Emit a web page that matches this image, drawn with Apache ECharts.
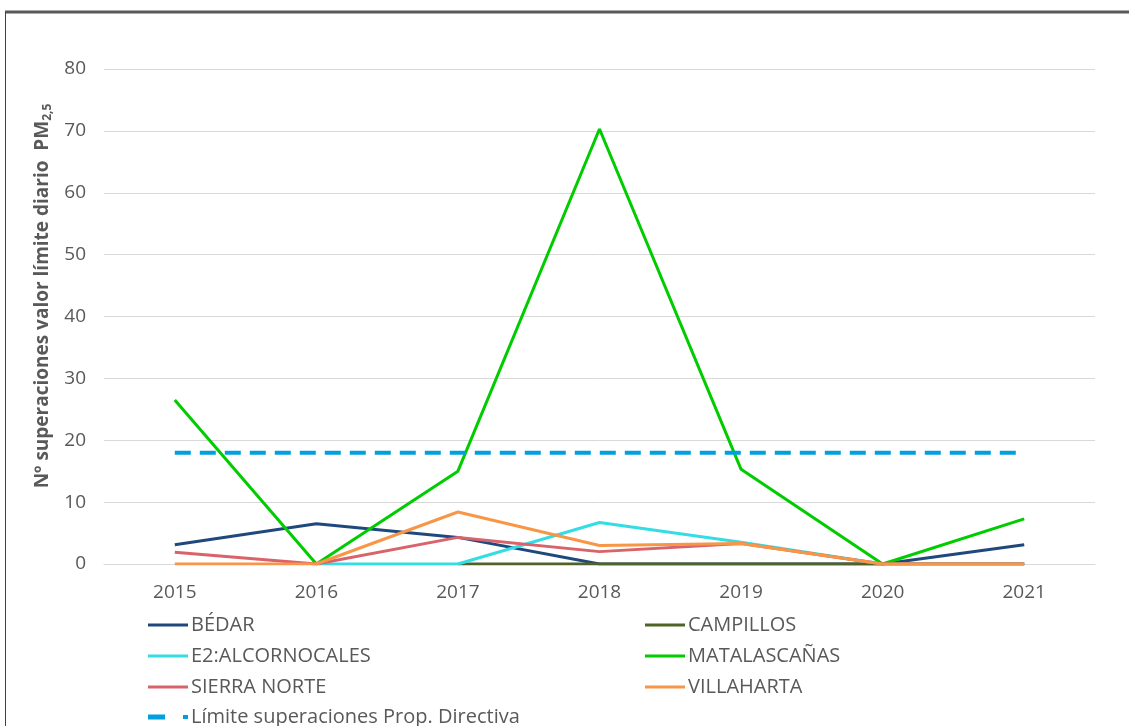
<!DOCTYPE html>
<html>
<head>
<meta charset="utf-8">
<script src="https://cdn.jsdelivr.net/npm/echarts@6/dist/echarts.min.js"></script>
<style>
  html, body { margin: 0; padding: 0; background: #fff; }
  #chart { width: 1129px; height: 726px; }
</style>
</head>
<body>
<div id="chart"></div>
<script>
// años y valores
const years = ['2015', '2016', '2017', '2018', '2019', '2020', '2021'];
const bedar = [3.1, 6.5, 4.3, 0, 0, 0, 3.1];
const campillos = [null, null, 0, 0, 0, 0, 0];
const alcornocales = [null, 0, 0, 6.7, 3.5, 0, 0];
const matalascanas = [26.5, 0, 15, 70.3, 15.3, 0, 7.3];
const sierraNorte = [1.9, 0, 4.3, 2, 3.3, 0, 0];
const villaharta = [0, 0, 8.4, 3, 3.3, 0, 0];
const limite = [18, 18, 18, 18, 18, 18, 18];
const yTicks = [0, 10, 20, 30, 40, 50, 60, 70, 80];

const chart = echarts.init(document.getElementById('chart'));
const font = "'Open Sans', sans-serif";
const grey = '#595959';

function line(name, data, color) {
    return {
        name: name,
        type: 'line',
        data: data,
        symbol: 'none',
        connectNulls: false,
        lineStyle: { width: 3, color: color },
        itemStyle: { color: color }
    };
}

const legendBase = {
    orient: 'vertical',
    top: 610,
    itemWidth: 40,
    itemHeight: 14,
    itemGap: 11,
    icon: 'path://M0,6H40V9H0Z',
    textStyle: { color: grey, fontFamily: font, fontSize: 20, lineHeight: 20, padding: [0, 0, 0, -2] }
};

chart.setOption({
    animation: false,
    textStyle: { fontFamily: font },
    grid: { left: 104, right: 34, top: 69, bottom: 162 },
    legend: [
        Object.assign({}, legendBase, {
            left: 143,
            data: ['BÉDAR', 'E2:ALCORNOCALES', 'SIERRA NORTE']
        }),
        Object.assign({}, legendBase, {
            left: 640,
            data: ['CAMPILLOS', 'MATALASCAÑAS', 'VILLAHARTA']
        }),
        Object.assign({}, legendBase, {
            left: 143,
            top: 702,
            data: [{ name: 'Límite superaciones Prop. Directiva', icon: 'path://M0,0H17V5H0ZM35,0.5H40V4.5H35Z' }]
        })
    ],
    xAxis: {
        type: 'category',
        data: years,
        boundaryGap: true,
        axisLine: { show: true, lineStyle: { color: '#d9d9d9', width: 1 } },
        axisTick: { show: false },
        axisLabel: { color: grey, fontSize: 19, margin: 19, fontFamily: font }
    },
    yAxis: {
        type: 'value',
        min: yTicks[0],
        max: yTicks[yTicks.length - 1],
        interval: 10,
        axisLine: { show: false },
        axisTick: { show: false },
        splitLine: { lineStyle: { color: '#d9d9d9', width: 1 } },
        axisLabel: { color: grey, fontSize: 19, margin: 18, fontFamily: font }
    },
    graphic: [
        {
            type: 'line',
            shape: { x1: 5, y1: 12, x2: 1129, y2: 12 },
            style: { stroke: grey, lineWidth: 3 }
        },
        {
            type: 'line',
            shape: { x1: 5.5, y1: 12, x2: 5.5, y2: 726 },
            style: { stroke: '#404040', lineWidth: 1 }
        },
        {
            type: 'text',
            x: 43,
            y: 296,
            rotation: Math.PI / 2,
            style: {
                text: '{b|Nº superaciones valor límite diario  PM}{s|2,5}',
                align: 'center',
                verticalAlign: 'middle',
                rich: {
                    b: { fontFamily: font, fontSize: 19, fontWeight: 'bold', fill: grey },
                    s: { fontFamily: font, fontSize: 12, fontWeight: 'bold', fill: grey, verticalAlign: 'bottom', padding: [9, 0, 0, 0] }
                }
            }
        }
    ],
    series: [
        line('BÉDAR', bedar, '#1f497d'),
        line('CAMPILLOS', campillos, '#4f6228'),
        line('E2:ALCORNOCALES', alcornocales, '#33dde3'),
        line('MATALASCAÑAS', matalascanas, '#00cc00'),
        line('SIERRA NORTE', sierraNorte, '#d9636b'),
        line('VILLAHARTA', villaharta, '#f79646'),
        {
            name: 'Límite superaciones Prop. Directiva',
            type: 'line',
            data: limite,
            symbol: 'none',
            lineStyle: { width: 4, color: '#00a0e0', type: [16, 9] },
            itemStyle: { color: '#00a0e0' }
        }
    ]
});
</script>
</body>
</html>
